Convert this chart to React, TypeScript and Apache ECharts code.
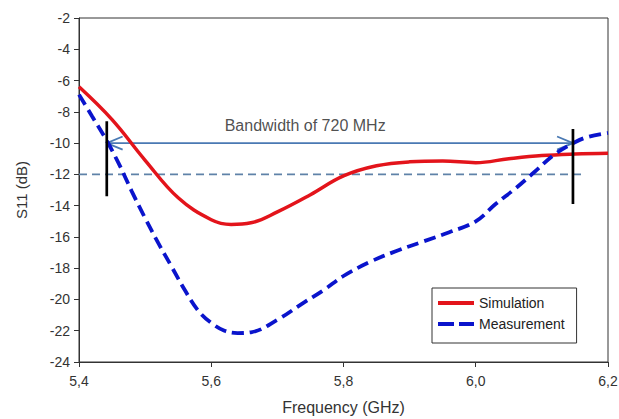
import React, { useEffect, useRef } from "react";
import * as echarts from "echarts";

// Frequency (GHz) and S11 (dB)
const simFreq = [5.40, 5.45, 5.50, 5.55, 5.60, 5.63, 5.66, 5.70, 5.75, 5.80, 5.85, 5.90, 5.95, 6.00, 6.05, 6.10, 6.15, 6.20];
const simS11 = [-6.4, -8.5, -11.1, -13.5, -14.9, -15.2, -15.1, -14.4, -13.3, -12.1, -11.45, -11.2, -11.15, -11.25, -11.0, -10.8, -10.7, -10.65];

const measFreq = [5.40, 5.42, 5.44, 5.46, 5.48, 5.50, 5.52, 5.54, 5.56, 5.58, 5.60, 5.62, 5.64, 5.66, 5.70, 5.74, 5.77, 5.80, 5.84, 5.88, 5.92, 5.96, 6.00, 6.03, 6.06, 6.09, 6.12, 6.15, 6.17, 6.20];
const measS11 = [-6.9, -8.3, -9.7, -11.3, -13.1, -14.8, -16.4, -17.9, -19.4, -20.7, -21.5, -22.0, -22.15, -22.1, -21.3, -20.2, -19.4, -18.5, -17.6, -16.9, -16.3, -15.7, -15.0, -13.9, -12.9, -11.8, -10.7, -9.95, -9.6, -9.35];

// Annotations
const bandEdges = [5.442, 6.147];
const bandLevel = -10;
const thresholdLevel = -12;
const thresholdRange = [5.4, 6.16];
const leftMarker = [-8.6, -13.4];
const rightMarker = [-9.1, -13.9];
const bandText = "Bandwidth of 720 MHz";
const bandTextPos = [5.742, -8.85];

const xTicks = { min: 5.4, max: 6.2, interval: 0.2 };
const yTicks = { min: -24, max: -2, interval: 2 };

const FONT = "'Liberation Sans', Arial, sans-serif";

export default function App() {
  const ref = useRef<HTMLDivElement>(null);
  useEffect(() => {
    if (!ref.current) return;
    const chart = echarts.init(ref.current, undefined, { renderer: "svg" });
    const zip = (a: number[], b: number[]) => a.map((v, i) => [v, b[i]]);
    const headDx = 0.024;
    const headDy = 0.42;
    const helper = (name: string, data: any[], color: string, width: number, type: any = "solid", z = 2) => ({
      name,
      type: "line",
      data,
      symbol: "none",
      silent: true,
      z,
      lineStyle: { color, width, type },
    });
    chart.setOption({
      animation: false,
      textStyle: { fontFamily: FONT },
      grid: {
        left: 79,
        top: 18,
        right: 11,
        bottom: 57,
        show: true,
        borderColor: "#333",
        borderWidth: 1,
        containLabel: false,
        outerBoundsMode: "none",
      },
      legend: {
        data: [
          { name: "Simulation", icon: "path://M0,0h36v4h-36z" },
          { name: "Measurement", icon: "path://M0,0h16v4h-16zM21,0h15v4h-15z" },
        ],
        orient: "vertical",
        left: 432,
        top: 288,
        padding: [8, 12, 12, 6],
        itemGap: 7,
        itemWidth: 36,
        itemHeight: 4,
        borderColor: "#333",
        borderWidth: 1,
        backgroundColor: "#fff",
        textStyle: { fontSize: 14, color: "#222", fontFamily: FONT, lineHeight: 14 },
      },
      xAxis: {
        type: "value",
        min: xTicks.min,
        max: xTicks.max,
        interval: xTicks.interval,
        name: "Frequency (GHz)",
        nameLocation: "middle",
        nameGap: 37,
        nameTextStyle: { fontSize: 16, color: "#333", fontFamily: FONT, lineHeight: 17 },
        axisLine: { show: true, lineStyle: { color: "#333", width: 1 } },
        axisTick: { show: true, inside: false, length: 5, lineStyle: { color: "#333" } },
        axisLabel: {
          fontSize: 14,
          color: "#333",
          margin: 12,
          fontFamily: FONT,
          formatter: (v: number) => v.toFixed(1).replace(".", ","),
        },
        splitLine: { show: false },
      },
      yAxis: {
        type: "value",
        min: yTicks.min,
        max: yTicks.max,
        interval: yTicks.interval,
        name: "S11 (dB)",
        nameLocation: "middle",
        nameGap: 50,
        nameRotate: 90,
        nameTextStyle: { fontSize: 15, color: "#333", fontFamily: FONT },
        axisLine: { show: true, lineStyle: { color: "#333", width: 1 } },
        axisTick: { show: true, inside: false, length: 5, lineStyle: { color: "#333" } },
        axisLabel: { fontSize: 14, color: "#333", margin: 9, fontFamily: FONT },
        splitLine: { show: false },
      },
      series: [
        helper(
          "threshold",
          [
            [thresholdRange[0], thresholdLevel],
            [thresholdRange[1], thresholdLevel],
          ],
          "#5f82a8",
          1.6,
          [8, 5],
          1
        ),
        helper(
          "arrow",
          [
            [bandEdges[0], bandLevel],
            [bandEdges[1], bandLevel],
          ],
          "#4a79b3",
          1.8
        ),
        helper(
          "arrowLeft",
          [
            [bandEdges[0] + headDx, bandLevel + headDy],
            [bandEdges[0], bandLevel],
            [bandEdges[0] + headDx, bandLevel - headDy],
          ],
          "#4a79b3",
          1.8
        ),
        helper(
          "arrowRight",
          [
            [bandEdges[1] - headDx, bandLevel + headDy],
            [bandEdges[1], bandLevel],
            [bandEdges[1] - headDx, bandLevel - headDy],
          ],
          "#4a79b3",
          1.8
        ),
        {
          name: "Simulation",
          type: "line",
          data: zip(simFreq, simS11),
          smooth: 0.4,
          symbol: "none",
          z: 3,
          lineStyle: { color: "#e3141b", width: 3.5 },
          itemStyle: { color: "#e3141b" },
        },
        {
          name: "Measurement",
          type: "line",
          data: zip(measFreq, measS11),
          smooth: 0.4,
          symbol: "none",
          z: 3,
          lineStyle: { color: "#0a14cc", width: 3.8, type: [12, 6] },
          itemStyle: { color: "#0a14cc" },
        },
        helper(
          "markerLeft",
          [
            [bandEdges[0], leftMarker[0]],
            [bandEdges[0], leftMarker[1]],
          ],
          "#000",
          2.7,
          "solid",
          4
        ),
        helper(
          "markerRight",
          [
            [bandEdges[1], rightMarker[0]],
            [bandEdges[1], rightMarker[1]],
          ],
          "#000",
          2.7,
          "solid",
          4
        ),
        {
          name: "bandText",
          type: "scatter",
          data: [bandTextPos],
          symbolSize: 1,
          silent: true,
          itemStyle: { color: "rgba(0,0,0,0)" },
          label: {
            show: true,
            position: "inside",
            formatter: bandText,
            fontSize: 16,
            color: "#222",
            fontFamily: FONT,
          },
        },
      ],
    });
    return () => chart.dispose();
  }, []);
  return <div ref={ref} style={{ width: 619, height: 419, position: "absolute", left: 0, top: 0, background: "#fff" }} />;
}
